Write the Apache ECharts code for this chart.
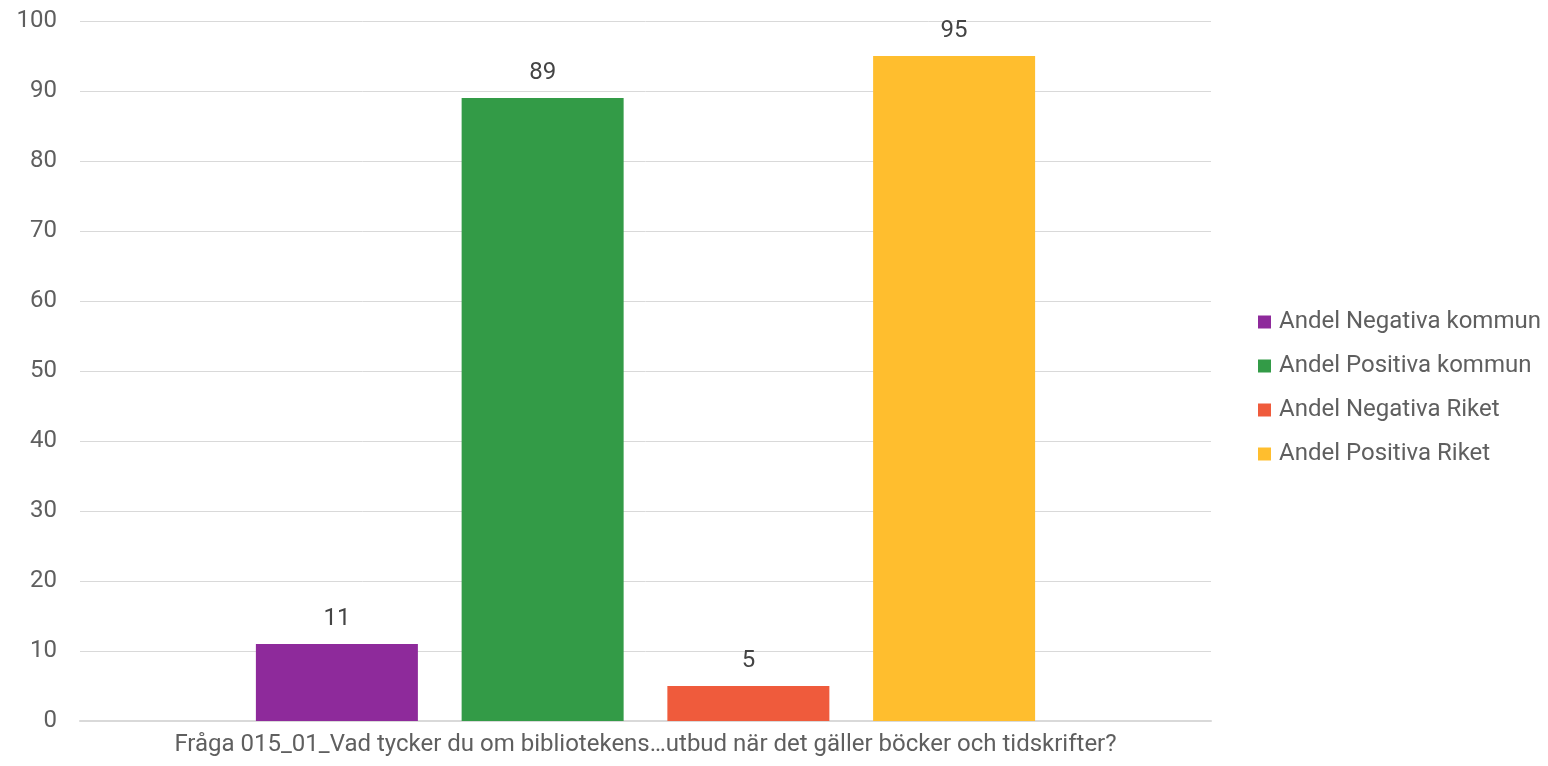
<!DOCTYPE html>
<html><head><meta charset="utf-8">
<script src="https://cdn.jsdelivr.net/npm/echarts@6/dist/echarts.min.js"></script>
<style>html,body{margin:0;padding:0;background:#fff}#c{width:1548px;height:766px}</style>
</head><body><div id="c"></div>
<script>
const categories = ['Fråga 015_01_Vad tycker du om bibliotekens…utbud när det gäller böcker och tidskrifter?'];
const seriesNames = ['Andel Negativa kommun','Andel Positiva kommun','Andel Negativa Riket','Andel Positiva Riket'];
const negKommun = [11];
const posKommun = [89];
const negRiket = [5];
const posRiket = [95];
const colors = ['#8E2A9B','#339B47','#EF5B3C','#FFBE2E'];
const seriesData = [negKommun,posKommun,negRiket,posRiket];
const font = 'Roboto';
const chart = echarts.init(document.getElementById('c'));
chart.setOption({
  animation:false,
  textStyle:{fontFamily:font},
  grid:{left:80,right:337,top:21,bottom:45,containLabel:false},
  legend:{orient:'vertical',left:1253,top:305,itemWidth:13,itemHeight:13,itemGap:20,icon:'rect',
    textStyle:{fontFamily:font,fontSize:24,color:'#5f5f5f',padding:[0,0,0,3]},data:seriesNames},
  xAxis:{type:'category',data:categories,axisTick:{show:false},
    axisLine:{lineStyle:{color:'#d9d9d9',width:2}},
    axisLabel:{fontFamily:font,fontSize:24,color:'#5f5f5f',margin:12}},
  yAxis:{type:'value',min:0,max:100,interval:10,axisLine:{show:false},axisTick:{show:false},
    splitLine:{lineStyle:{color:'#d9d9d9',width:1}},
    axisLabel:{fontFamily:font,fontSize:24,color:'#5f5f5f',margin:23}},
  series:seriesData.map((d,i)=>({name:seriesNames[i],type:'bar',data:d,barWidth:162,barGap:'27%',
    itemStyle:{color:colors[i]},
    label:{show:true,position:'top',distance:13,fontFamily:font,fontSize:24,color:'#444'}}))
});
</script></body></html>
